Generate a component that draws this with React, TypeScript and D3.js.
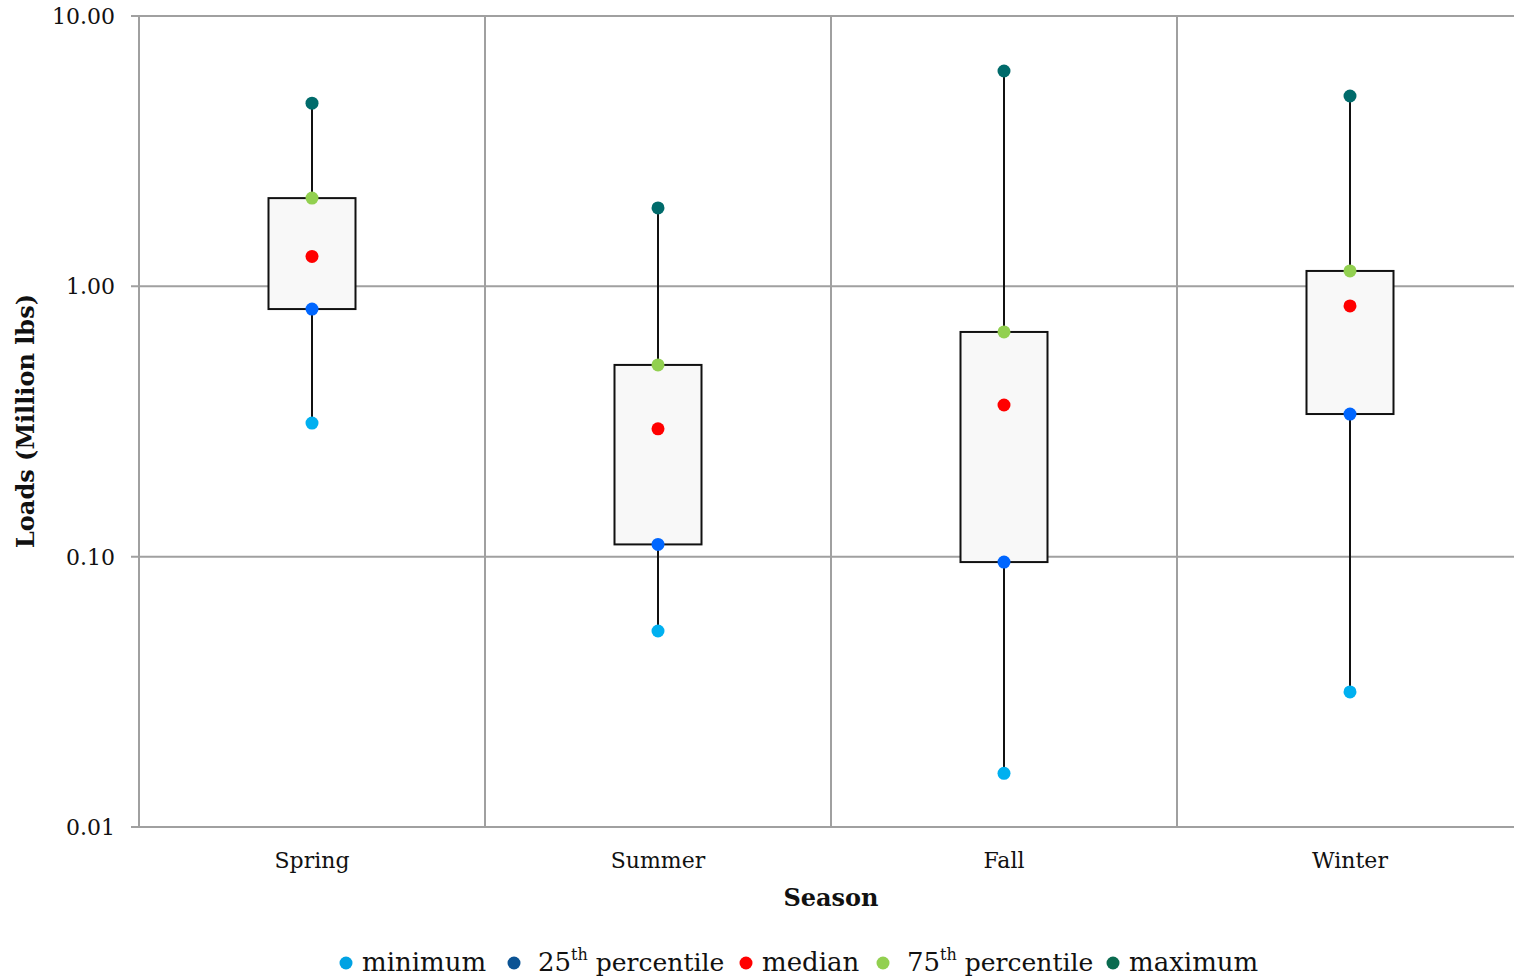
import React from 'react';
import * as d3 from 'd3';

const seasons = ['Spring', 'Summer', 'Fall', 'Winter'];
const minimum = [0.312, 0.0531, 0.0158, 0.0316];
const p25 = [0.824, 0.111, 0.0955, 0.337];
const median = [1.29, 0.297, 0.364, 0.846];
const p75 = [2.12, 0.512, 0.678, 1.14];
const maximum = [4.76, 1.95, 6.26, 5.06];
const yTicks = [0.01, 0.1, 1, 10];

const W = 1514;
const H = 979;
const FONT = '"DejaVu Serif", Georgia, serif';

const series = [
  { key: 'minimum', values: minimum, color: '#00b0f0', legendColor: '#00a2e3', label: 'minimum' },
  { key: 'p25', values: p25, color: '#0066ff', legendColor: '#0b5394', label: '25', sup: 'th', rest: ' percentile' },
  { key: 'median', values: median, color: '#ff0000', legendColor: '#ff0000', label: 'median' },
  { key: 'p75', values: p75, color: '#92d050', legendColor: '#92d050', label: '75', sup: 'th', rest: ' percentile' },
  { key: 'maximum', values: maximum, color: '#006b6b', legendColor: '#0a6b4f', label: 'maximum' },
];
const legendX = [346, 514, 746, 883, 1113];

export default function App() {
  const left = 139;
  const top = 16;
  const bottom = 827;
  const x = d3.scaleBand<string>().domain(seasons).range([left, left + 346 * 4]).padding(0);
  const y = d3.scaleLog().domain([0.01, 10]).range([bottom, top]);
  const boxW = 87;
  const grid = '#a0a0a0';

  return (
    <svg width={W} height={H} style={{ position: 'absolute', left: 0, top: 0, background: '#fff' }} fontFamily={FONT}>
      {/* horizontal grid + ticks */}
      {yTicks.map((t) => (
        <g key={t}>
          <line x1={left - 8} x2={W} y1={y(t)} y2={y(t)} stroke={grid} strokeWidth={2} />
          <text x={115} y={y(t)} dy="0.36em" textAnchor="end" fontSize={22} fill="#111">
            {d3.format('.2f')(t)}
          </text>
        </g>
      ))}
      {/* vertical lines */}
      {seasons.map((s) => (
        <line key={s} x1={x(s)!} x2={x(s)!} y1={top} y2={bottom} stroke={grid} strokeWidth={2} />
      ))}

      {/* boxes */}
      {seasons.map((s, i) => {
        const cx = x(s)! + x.bandwidth() / 2;
        return (
          <g key={s}>
            <line x1={cx} x2={cx} y1={y(maximum[i])} y2={y(minimum[i])} stroke="#111" strokeWidth={2} />
            <rect
              x={cx - boxW / 2}
              y={y(p75[i])}
              width={boxW}
              height={y(p25[i]) - y(p75[i])}
              fill="#f8f8f8"
              stroke="#111"
              strokeWidth={2}
            />
            {series.map((ser) => (
              <circle key={ser.key} cx={cx} cy={y(ser.values[i])} r={6.5} fill={ser.color} />
            ))}
            <text x={cx} y={868} textAnchor="middle" fontSize={22} fill="#111">
              {s}
            </text>
          </g>
        );
      })}

      {/* axis titles */}
      <text x={831} y={906} textAnchor="middle" fontSize={24} fontWeight="bold" fill="#111">
        Season
      </text>
      <text
        transform={`translate(34,421) rotate(-90)`}
        textAnchor="middle"
        fontSize={24}
        fontWeight="bold"
        fill="#111"
      >
        Loads (Million lbs)
      </text>

      {/* legend */}
      {series.map((ser, i) => (
        <g key={ser.key}>
          <circle cx={legendX[i]} cy={963} r={6.5} fill={ser.legendColor} />
          <text x={legendX[i] + (ser.sup ? 24 : 16)} y={971} fontSize={26} fill="#111">
            {ser.label}
            {ser.sup && (
              <tspan fontSize={16} dy={-11}>
                {ser.sup}
              </tspan>
            )}
            {ser.rest && (
              <tspan dy={11} fontSize={25}>
                {ser.rest}
              </tspan>
            )}
          </text>
        </g>
      ))}
    </svg>
  );
}
